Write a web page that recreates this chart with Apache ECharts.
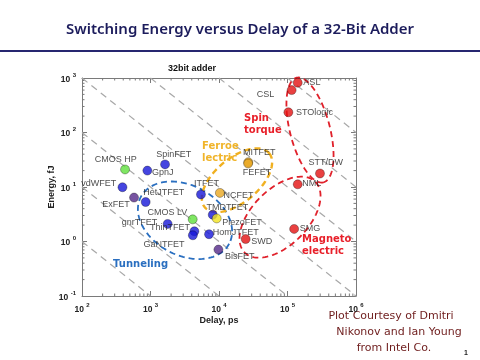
<!DOCTYPE html>
<html><head><meta charset="utf-8">
<script src="https://cdn.jsdelivr.net/npm/echarts@6/dist/echarts.min.js"></script>
<style>html,body{margin:0;padding:0;background:#fff}#c{width:480px;height:360px}</style>
</head><body><div id="c"></div>
<script>
// ---- data ----
const names    = ['CMOS HP','SpinFET','GpnJ','vdWFET','ExFET','HetJTFET','ITFET','NCFET','MITFET','FEFET',
                  'ASL','CSL','STOlogic','STT/DW','NML','TMDTFET','PiezoFET','CMOS LV','gnrTFET','ThinTFET',
                  'GaNTFET','HomJTFET','BisFET','SWD','SMG'];
const delays   = [425,1630,900,390,575,850,5450,10300,26800,26600,
                  141000,115000,103000,298000,141000,8100,9250,4130,1780,4370,
                  4150,7150,9800,24500,125000];
const energies = [21,26,20,9.9,6.4,5.3,7.3,7.8,28.5,27,
                  820,600,235,17.7,11.2,3.1,2.65,2.55,2.1,1.54,
                  1.3,1.36,0.71,1.11,1.7];
const groups   = ['cmos','tfet','tfet','tfet','exotic','tfet','tfet','ferro','ferro','ferro',
                  'spin','spin','spin','spin','spin','tfet','piezo','cmos','tfet','tfet',
                  'tfet','tfet','exotic','spin','spin'];
const edpLevels = [1e2,1e3,1e4,1e5,1e6,1e7,1e8];          // energy*delay guide lines (fJ*ps)
const regionNames  = ['Tunneling','Ferroelectric','Spin torque','Magnetoelectric'];
const regionDelay  = [3190,18300,213000,77800];
const regionEnergy = [2.45,13.3,111,2.79];
const regionLabels = ['Tunneling','Ferroe\nlectric','Spin\ntorque','Magneto\nelectric'];
const regionLabelDelay  = [284,5650,23200,163000];
const regionLabelEnergy = [0.381,42.7,142,0.85];

// ---- styles ----
const groupColor = {cmos:'#5fe03c', tfet:'#1717d8', exotic:'#55298a', ferro:'#e9a722', piezo:'#f3e41f', spin:'#e41212'};
// label anchor offsets relative to the point centre: [dx, dy, align]
const labelLayout = {
  'CMOS HP':[-9,-10,'center'],'SpinFET':[9,-10,'center'],'GpnJ':[5,2,'left'],'vdWFET':[-6,-3,'right'],
  'ExFET':[-4,7,'right'],'HetJTFET':[-2,-9,'left'],'ITFET':[6,-11,'center'],'NCFET':[4,3,'left'],
  'MITFET':[-5,-9,'left'],'FEFET':[-5,9,'left'],'ASL':[6,0,'left'],'CSL':[-17,5,'right'],
  'STOlogic':[8,1,'left'],'STT/DW':[6,-11,'center'],'NML':[5,0,'left'],'TMDTFET':[-6,-7,'left'],
  'PiezoFET':[6,4,'left'],'CMOS LV':[-5,-6,'right'],'gnrTFET':[-10,-1,'right'],'ThinTFET':[-4,-3,'right'],
  'GaNTFET':[-8,10,'right'],'HomJTFET':[4,-1,'left'],'BisFET':[7,7,'left'],'SWD':[6,3,'left'],'SMG':[6,0,'left']
};
const ellipseStyle = [
  {a:50,b:35,rot:28,color:'#2a6fc0',lw:1.8},
  {a:42,b:22,rot:-40,color:'#f0b020',lw:2.4},
  {a:54,b:20,rot:75.6,color:'#e0202a',lw:1.8},
  {a:50,b:28,rot:-45,color:'#e0202a',lw:1.8}
];
const regionLabelColor = ['#2a6fc0','#f0b42a','#e8202a','#e8202a'];
const SYM = 9;

const chart = echarts.init(document.getElementById('c'), null, {renderer:'canvas'});

function expLabel(v){ const e = Math.round(Math.log10(v)); return '{b|10 }{s|' + e + '}'; }
const tickRich = {
  b:{fontSize:8.5, fontWeight:'bold', color:'#222', fontFamily:'Liberation Sans', lineHeight:12, verticalAlign:'bottom'},
  s:{fontSize:6, fontWeight:'bold', color:'#222', fontFamily:'Liberation Sans', lineHeight:12, verticalAlign:'top'}
};
const axisCol = '#7a7a7a';
function baseAxis(extra){
  return Object.assign({
    type:'log', logBase:10, splitNumber:4,
    axisLine:{show:true, lineStyle:{color:axisCol, width:1}},
    axisTick:{show:true, inside:true, length:5, lineStyle:{color:axisCol}},
    splitLine:{show:false}
  }, extra);
}

const scatterData = names.map((n,i)=>{
  const L = labelLayout[n];
  return {
    name:n, value:[delays[i], energies[i]],
    itemStyle:{color:groupColor[groups[i]], borderColor:'rgba(0,0,0,0.55)', borderWidth:0.7},
    label:{show:true, formatter:n, position:[SYM/2+L[0], SYM/2+L[1]], align:L[2], verticalAlign:'middle'}
  };
});

const option = {
  animation:false,
  backgroundColor:'#fff',
  title:{
    text:'Switching Energy versus Delay of a 32-Bit Adder',
    left:'center', top:17,
    textStyle:{fontFamily:'Noto Sans', fontWeight:600, fontSize:15, color:'#1c1c5c'}
  },
  graphic:[
    {type:'rect', shape:{x:0,y:50,width:480,height:2}, style:{fill:'#262670'}},
    {type:'text', left:168, top:64, style:{text:'32bit adder', font:'bold 9px "Liberation Sans"', fill:'#111'}},
    {type:'text', x:391, y:316, style:{text:'Plot Courtesy of Dmitri', font:'11px "DejaVu Sans"', fill:'#6e1c1c', align:'center', verticalAlign:'middle'}},
    {type:'text', x:399, y:332, style:{text:'Nikonov and Ian Young', font:'11px "DejaVu Sans"', fill:'#6e1c1c', align:'center', verticalAlign:'middle'}},
    {type:'text', x:394, y:348, style:{text:'from Intel Co.', font:'11px "DejaVu Sans"', fill:'#6e1c1c', align:'center', verticalAlign:'middle'}},
    {type:'text', x:466, y:353, style:{text:'1', font:'bold 7px "Liberation Sans"', fill:'#222', align:'center', verticalAlign:'middle'}}
  ],
  grid:{left:82, right:124, top:78, bottom:64, containLabel:false},
  xAxis:[
    baseAxis({min:100, max:1e6, position:'bottom',
      axisLabel:{formatter:expLabel, rich:tickRich, margin:6},
      name:'Delay, ps', nameLocation:'middle', nameGap:20, nameMoveOverlap:false,
      nameTextStyle:{fontFamily:'Liberation Sans', fontWeight:'bold', fontSize:9, color:'#222'}}),
    baseAxis({min:100, max:1e6, position:'top', axisLabel:{show:false}})
  ],
  yAxis:[
    baseAxis({min:0.1, max:1000, position:'left',
      axisLabel:{formatter:expLabel, rich:tickRich, margin:6},
      name:'Energy, fJ', nameLocation:'middle', nameGap:26, nameRotate:90, nameMoveOverlap:false,
      nameTextStyle:{fontFamily:'Liberation Sans', fontWeight:'bold', fontSize:9, color:'#222'}}),
    baseAxis({min:0.1, max:1000, position:'right', axisLabel:{show:false}})
  ],
  series:[
    { // minor log ticks on all four sides
      type:'custom', silent:true, z:1,
      data:[[1000,1]],
      renderItem:function(params, api){
        const ch = [];
        const st = {stroke:axisCol, lineWidth:1};
        const cs = params.coordSys;
        const top = cs.y, bot = cs.y + cs.height, lef = cs.x, rig = cs.x + cs.width;
        for (let k=2;k<6;k++) for (let m=2;m<10;m++){
          const x = api.coord([m*Math.pow(10,k), 1])[0];
          ch.push({type:'line', shape:{x1:x,y1:bot,x2:x,y2:bot-2.5}, style:st});
          ch.push({type:'line', shape:{x1:x,y1:top,x2:x,y2:top+2.5}, style:st});
        }
        for (let k=-1;k<3;k++) for (let m=2;m<10;m++){
          const y = api.coord([1000, m*Math.pow(10,k)])[1];
          ch.push({type:'line', shape:{x1:lef,y1:y,x2:lef+2.5,y2:y}, style:st});
          ch.push({type:'line', shape:{x1:rig,y1:y,x2:rig-2.5,y2:y}, style:st});
        }
        return {type:'group', children:ch};
      }
    },
    { // constant energy-delay guide lines
      type:'custom', silent:true, z:2,
      data:edpLevels.map(v=>[v,1]),
      renderItem:function(params, api){
        const p = Math.log10(api.value(0));
        const x1 = Math.max(2, p-3), x2 = Math.min(6, p+1);
        const a = api.coord([Math.pow(10,x1), Math.pow(10,p-x1)]);
        const b = api.coord([Math.pow(10,x2), Math.pow(10,p-x2)]);
        return {type:'line', shape:{x1:a[0],y1:a[1],x2:b[0],y2:b[1]},
          style:{stroke:'#a8a8a8', lineWidth:1.2, lineDash:[7,5]}};
      }
    },
    { // region ellipses
      type:'custom', silent:true, z:3,
      data:regionDelay.map((d,i)=>({name:regionNames[i], value:[d, regionEnergy[i]]})),
      renderItem:function(params, api){
        const c = api.coord([api.value(0), api.value(1)]);
        const g = ellipseStyle[params.dataIndex];
        const r = g.rot*Math.PI/180, pts = [];
        for (let i=0;i<=120;i++){
          const t = i/120*2*Math.PI, ex = g.a*Math.cos(t), ey = g.b*Math.sin(t);
          pts.push([c[0]+ex*Math.cos(r)-ey*Math.sin(r), c[1]+ex*Math.sin(r)+ey*Math.cos(r)]);
        }
        return {type:'polyline', shape:{points:pts},
          style:{stroke:g.color, lineWidth:g.lw, lineDash:[6,4], fill:null}};
      }
    },
    { // region labels
      type:'custom', silent:true, z:4,
      data:regionLabelDelay.map((d,i)=>[d, regionLabelEnergy[i]]),
      renderItem:function(params, api){
        const c = api.coord([api.value(0), api.value(1)]);
        return {type:'text', x:c[0], y:c[1],
          style:{text:regionLabels[params.dataIndex], font:'bold 10px "DejaVu Sans"', lineHeight:12,
            fill:regionLabelColor[params.dataIndex], align:'left', verticalAlign:'middle'}};
      }
    },
    {
      type:'scatter', z:5, symbol:'circle', symbolSize:SYM,
      label:{fontFamily:'Liberation Sans', fontSize:9, color:'#222'},
      labelLayout:{hideOverlap:false},
      data:scatterData
    }
  ]
};
chart.setOption(option);
</script>
</body></html>
